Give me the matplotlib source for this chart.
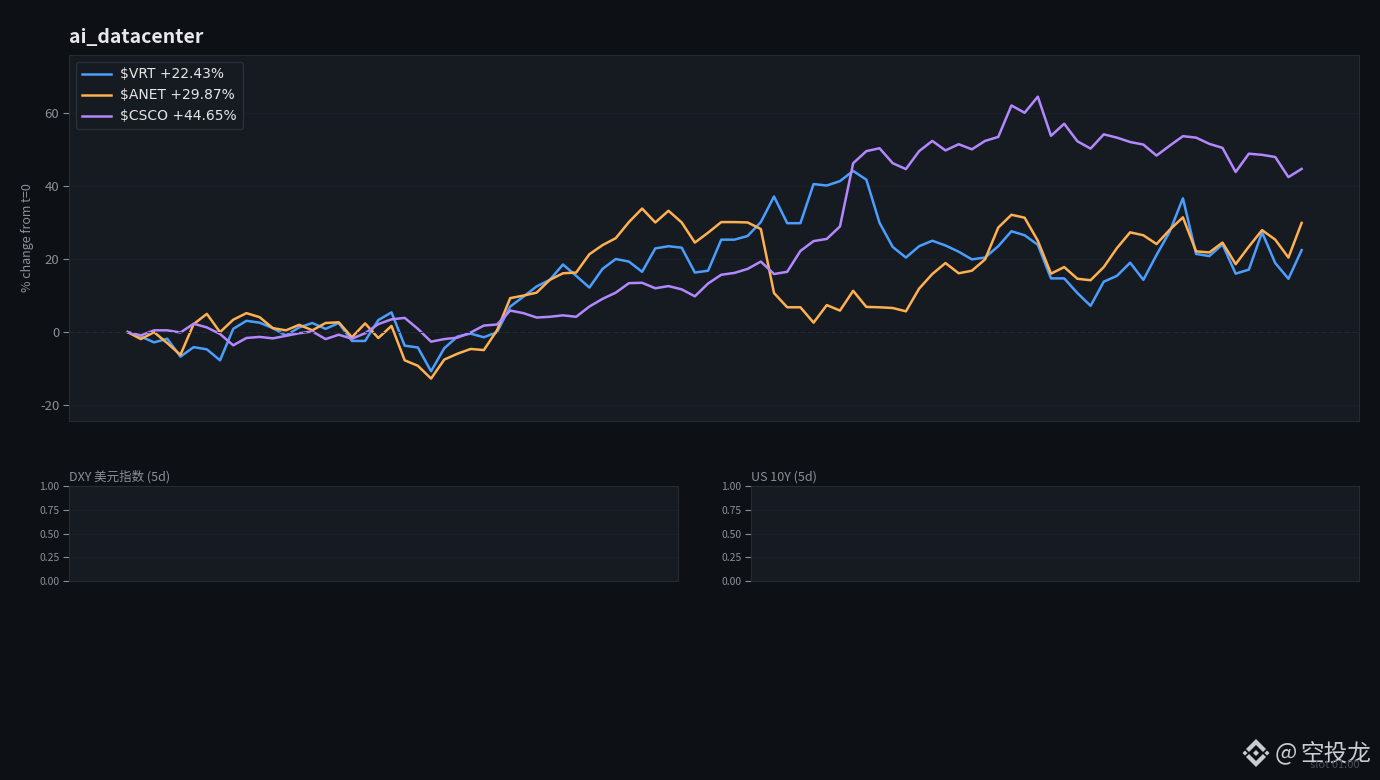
import matplotlib
matplotlib.use("Agg")
import matplotlib.pyplot as plt
from matplotlib.patches import Polygon
from matplotlib.transforms import Affine2D

CJK = ['Noto Sans CJK SC', 'DejaVu Sans']
plt.rcParams['font.family'] = CJK
plt.rcParams['axes.unicode_minus'] = False

vrt = [0, -1.2, -2.8, -1.8, -6.7, -4.1, -4.7, -7.7, 0.9, 3.1, 2.6, 1.1, -0.9, 1.3, 2.5, 0.9, 2.5, -2.4, -2.4, 3.3,
       5.4, -3.7, -4.2, -10.7, -4.4, -1.2, -0.4, -1.4, 0.0, 7.0, 9.7, 12.5, 14.3, 18.5, 15.4, 12.2, 17.3, 20.0, 19.3, 16.5,
       22.9, 23.5, 23.1, 16.3, 16.8, 25.3, 25.3, 26.3, 30.1, 37.1, 29.8, 29.8, 40.5, 40.1, 41.3, 44.1, 41.7, 29.9, 23.3, 20.4,
       23.5, 25.0, 23.7, 22.0, 19.9, 20.4, 23.5, 27.6, 26.5, 23.9, 14.7, 14.7, 10.7, 7.2, 13.8, 15.4, 19.0, 14.3, 21.1, 27.5,
       36.6, 21.4, 20.8, 24.0, 16.0, 17.1, 27.3, 18.9, 14.6, 22.43]
anet = [0, -1.9, 0, -3.0, -6.2, 2.2, 5.0, 0, 3.4, 5.2, 4.1, 1.1, 0.5, 2.0, 0.5, 2.5, 2.7, -1.4, 2.4, -1.6,
        1.7, -7.7, -9.2, -12.7, -7.5, -5.9, -4.6, -4.9, 0.5, 9.3, 10.0, 10.8, 14.3, 16.1, 16.3, 21.3, 23.8, 25.7, 30.1, 33.8,
        30.0, 33.2, 30.0, 24.5, 27.2, 30.1, 30.1, 30.0, 28.2, 10.7, 6.8, 6.8, 2.6, 7.4, 5.9, 11.3, 6.9, 6.8, 6.6, 5.7,
        11.9, 15.9, 18.9, 16.1, 16.8, 19.9, 28.6, 32.1, 31.3, 25.0, 16.0, 17.8, 14.6, 14.2, 17.8, 23.0, 27.3, 26.5, 24.1, 28.0,
        31.4, 22.1, 21.8, 24.5, 18.6, 23.4, 27.9, 25.3, 20.4, 29.87]
csco = [0, -0.9, 0.5, 0.5, -0.1, 2.3, 1.3, -0.5, -3.6, -1.6, -1.3, -1.7, -1.0, -0.3, 0.2, -1.9, -0.7, -1.8, -0.3, 2.2,
        3.5, 3.9, 0.9, -2.6, -1.9, -1.5, -0.1, 1.8, 2.1, 5.9, 5.2, 4.0, 4.2, 4.6, 4.2, 7.0, 9.1, 10.8, 13.4, 13.5,
        12.0, 12.6, 11.7, 9.8, 13.3, 15.7, 16.2, 17.3, 19.3, 15.9, 16.5, 22.2, 24.9, 25.5, 28.9, 46.2, 49.5, 50.3, 46.2, 44.6,
        49.5, 52.3, 49.7, 51.4, 50.0, 52.3, 53.4, 62.0, 60.0, 64.4, 53.7, 57.0, 52.2, 50.2, 54.1, 53.2, 52.0, 51.3, 48.3, 51.0,
        53.6, 53.2, 51.5, 50.4, 43.8, 48.8, 48.5, 47.9, 42.4, 44.65]
labels = ['$VRT +22.43%', '$ANET +29.87%', '$CSCO +44.65%']
colors = ['#4a9eff', '#ffb04f', '#b388ff']
main_ticks = [-20, 0, 20, 40, 60]
small_ticks = [0.0, 0.25, 0.5, 0.75, 1.0]

W, H = 1380, 780
BG, PANEL, EDGE, TICK = '#0d1116', '#161b22', '#262b33', '#8b8f98'
GRID = '#1b2028'


def box(l, t, r, b):
    return [l / W, 1 - b / H, (r - l) / W, (b - t) / H]


fig = plt.figure(figsize=(W / 100, H / 100), dpi=100, facecolor=BG)

ax = fig.add_axes(box(69, 55, 1359, 421), facecolor=PANEL)
for series, lab, col in zip([vrt, anet, csco], labels, colors):
    ax.plot(range(len(series)), series, color=col, lw=1.8, label=lab)
ax.axhline(0, color='#262b33', lw=0.7, ls=(0, (4, 4)))
ax.set_xlim(-4.45, 93.35)
ax.set_ylim(-24.3, 75.8)
ax.set_yticks(main_ticks)
ax.set_xticks([])
ax.grid(axis='y', color=GRID, lw=0.6)
ax.set_axisbelow(True)
ax.tick_params(axis='y', colors=TICK, labelsize=9.5, length=4, width=0.8, pad=3)
ax.set_ylabel('% change from t=0', color=TICK, fontsize=9, labelpad=4)
for s in ax.spines.values():
    s.set_color(EDGE)
    s.set_linewidth(0.8)
leg = ax.legend(loc='upper left', facecolor=PANEL, edgecolor='#2a2f37', framealpha=1,
                prop={'family': 'DejaVu Sans', 'size': 10}, borderaxespad=0.5, handlelength=2.15,
                handletextpad=0.65, labelspacing=0.5)
for t in leg.get_texts():
    t.set_color('#e6e6e6')
fig.text(69 / W, 1 - 37 / H, 'ai_datacenter', color='#e6e8eb', fontsize=14, fontweight='bold',
         ha='left', va='center')

for rect, title in [((69, 486, 678, 581), 'DXY 美元指数 (5d)'), ((751, 486, 1359, 581), 'US 10Y (5d)')]:
    a = fig.add_axes(box(*rect), facecolor=PANEL)
    a.set_ylim(0, 1)
    a.set_xticks([])
    a.set_yticks(small_ticks)
    a.set_yticklabels([f'{v:.2f}' for v in small_ticks])
    a.grid(axis='y', color=GRID, lw=0.6)
    a.tick_params(axis='y', colors=TICK, labelsize=7.5, length=4, width=0.8, pad=3)
    for s in a.spines.values():
        s.set_color(EDGE)
        s.set_linewidth(0.8)
    a.set_title(title, loc='left', color=TICK, fontsize=9, pad=4.2)

# watermark
px = Affine2D().scale(1, -1).translate(0, H) + Affine2D().scale(fig.dpi / 100)
shapes = [[(1256, 739), (1266, 749), (1263, 752), (1256, 745), (1249, 752), (1246, 749)],
          [(1256, 767), (1266, 757), (1263, 754), (1256, 761), (1249, 754), (1246, 757)],
          [(1256, 750), (1259, 753), (1256, 756), (1253, 753)],
          [(1242.5, 753), (1245, 750.5), (1247.5, 753), (1245, 755.5)],
          [(1264.5, 753), (1267, 750.5), (1269.5, 753), (1267, 755.5)]]
for pts in shapes:
    fig.add_artist(Polygon(pts, closed=True, transform=px, facecolor='#c9ccd0', edgecolor='none'))
fig.text(1371 / W, 1 - 754 / H, '空投龙', color='#c9ccd0', fontsize=17, ha='right', va='center')
fig.text(1275 / W, 1 - 753 / H, '@', color='#c9ccd0', fontsize=17, ha='left', va='center')
fig.text(1360 / W, 1 - 765 / H, 'slot 01:00', color='#4a4f58', fontsize=8, ha='right', va='center')

fig.savefig('out.png', dpi=100, facecolor=BG)
